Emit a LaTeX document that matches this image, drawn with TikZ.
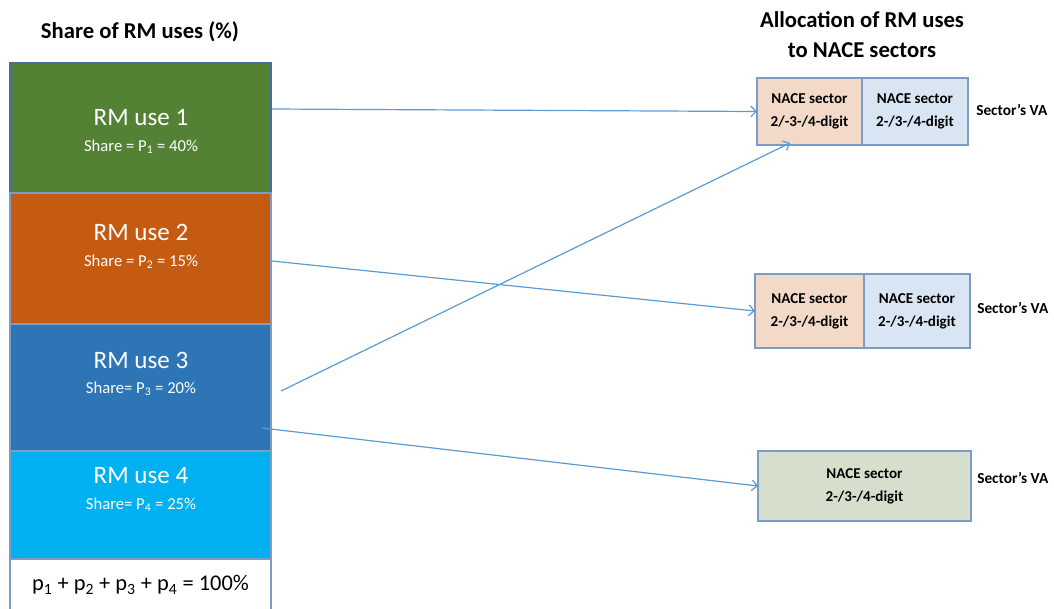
\documentclass[tikz,border=0pt]{standalone}
\usepackage{fontspec}
\setmainfont{Carlito}
\usetikzlibrary{arrows.meta}

\definecolor{usegreen}{HTML}{548235}
\definecolor{useorange}{HTML}{C55A11}
\definecolor{useblue}{HTML}{2E75B6}
\definecolor{usecyan}{HTML}{00B0F0}
\definecolor{useedge}{HTML}{41719C}
\definecolor{sectedge}{HTML}{7A9CC6}
\definecolor{peach}{HTML}{F3D9C7}
\definecolor{paleblue}{HTML}{D9E5F3}
\definecolor{palegreen}{HTML}{D6DFCB}
\definecolor{linkblue}{HTML}{5B9BD5}

\tikzset{
  usebox/.style={draw=useedge, line width=1pt, inner sep=0pt, outer sep=0pt, minimum width=195.75pt},
  sectbox/.style={draw=sectedge, line width=1pt, inner sep=0pt, outer sep=0pt, align=center, font=\fontsize{11.3}{17}\selectfont\bfseries},
  usetitle/.style={text=white, font=\fontsize{18.8}{20}\selectfont},
  usenote/.style={text=white, font=\fontsize{12.5}{14}\selectfont},
  vatext/.style={anchor=west, inner sep=0pt, font=\fontsize{11.5}{13}\selectfont\bfseries},
  link/.style={draw=linkblue, line width=0.9pt, -{Straight Barb[length=4pt,width=8pt]}}
}

\begin{document}
\begin{tikzpicture}[x=0.75pt,y=0.75pt,yscale=-1,xscale=1]
\useasboundingbox (0,0) rectangle (1054,608);

% Titles
\node (lefthead) at (140,32) {\fontsize{17}{20}\selectfont\bfseries Share of RM uses (\%)};
\node[align=center, font=\fontsize{17}{22.5}\selectfont\bfseries] (righthead) at (862,35) {Allocation of RM uses\\to NACE sectors};

%Shape: Rectangle (shares of RM uses)
\node[usebox, fill=usegreen, minimum height=97.5pt] (use1) at (140.5,128) {};
\node[usebox, fill=useorange, draw=sectedge, minimum height=98.25pt] (use2) at (140.5,258.5) {};
\node[usebox, fill=useblue, draw=sectedge, minimum height=95.25pt] (use3) at (140.5,387.5) {};
\node[usebox, fill=usecyan, draw=sectedge, minimum height=81pt] (use4) at (140.5,505) {};
\node[usebox, fill=white, draw=sectedge, minimum height=39.75pt] (usesum) at (140.5,585.5) {};

% Text Node
\node[usetitle] (name1) at (141,118) {RM use 1};
\node[usenote] (note1) at (141,147) {Share = P\textsubscript{1} = 40\%};
\node[usetitle] (name2) at (141,232) {RM use 2};
\node[usenote] (note2) at (141,262) {Share = P\textsubscript{2} = 15\%};
\node[usetitle] (name3) at (141,360) {RM use 3};
\node[usenote] (note3) at (141,389) {Share= P\textsubscript{3} = 20\%};
\node[usetitle] (name4) at (141,476) {RM use 4};
\node[usenote] (note4) at (141,505) {Share= P\textsubscript{4} = 25\%};
\node[font=\fontsize{16.8}{18}\selectfont] (sumtext) at (140.5,585) {p\textsubscript{1} + p\textsubscript{2} + p\textsubscript{3} + p\textsubscript{4} = 100\%};

%Shape: Rectangle (NACE sectors)
\node[sectbox, fill=peach, minimum width=78.75pt, minimum height=50.25pt] (s1a) at (809.5,111.5) {NACE sector\\2/-3-/4-digit};
\node[sectbox, fill=paleblue, minimum width=79.5pt, minimum height=50.25pt] (s1b) at (915,111.5) {NACE sector\\2-/3-/4-digit};
\node[sectbox, fill=peach, minimum width=81.75pt, minimum height=55.5pt] (s2a) at (809.5,311) {NACE sector\\2-/3-/4-digit};
\node[sectbox, fill=paleblue, minimum width=79.5pt, minimum height=55.5pt] (s2b) at (917,311) {NACE sector\\2-/3-/4-digit};
\node[sectbox, fill=palegreen, minimum width=159.75pt, minimum height=52.5pt] (s3) at (864.5,486) {NACE sector\\2-/3-/4-digit};

% Text Node
\node[vatext] (va1) at (976,110) {Sector’s VA};
\node[vatext] (va2) at (977,308) {Sector’s VA};
\node[vatext] (va3) at (977,478) {Sector’s VA};

%Straight Lines
\coordinate (out1) at (272,109);
\coordinate (out2) at (272,261);
\coordinate (out3) at (281,391);
\coordinate (out4) at (262,428);
\coordinate (in3) at (790,143);
\draw[link] (out1) -- (s1a.west);
\draw[link] (out2) -- (s2a.west);
\draw[link] (out3) -- (in3);
\draw[link] (out4) -- (s3.west);

\end{tikzpicture}
\end{document}
